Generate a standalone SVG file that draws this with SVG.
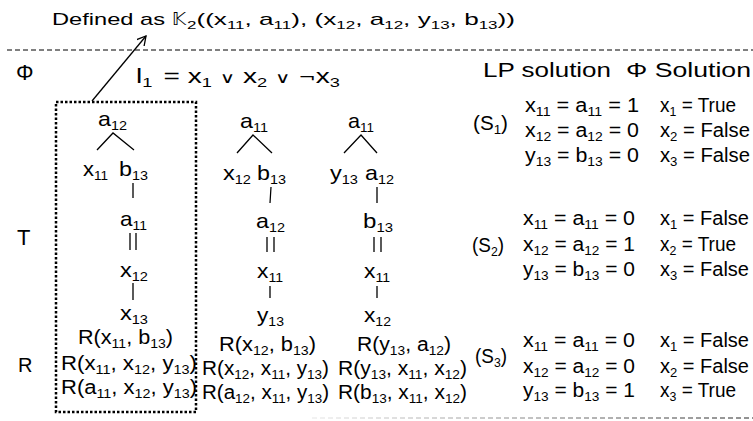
<svg xmlns="http://www.w3.org/2000/svg" width="753" height="421" viewBox="0 0 753 421">
<defs>
<style>
text{font-family:"Liberation Sans",Arial,sans-serif;fill:#000;font-size:20px}
.t{font-size:17px}
.ts{font-size:11px}
.s{font-size:13px}
.big{font-size:22px}
.h{font-size:21px}
.tr{font-size:21px}
.op{font-size:15px;font-family:"DejaVu Sans",sans-serif}
.ln{stroke:#000;stroke-width:1.3;fill:none}
</style>
<marker id="ah" markerWidth="12" markerHeight="12" refX="9" refY="5" orient="auto" markerUnits="userSpaceOnUse">
<path d="M0,0 L9,5 L0,10" fill="none" stroke="#000" stroke-width="1.3"/>
</marker>
<linearGradient id="fade" gradientUnits="userSpaceOnUse" x1="312" y1="0" x2="753" y2="0">
<stop offset="0" stop-color="#e6e6e6"/>
<stop offset="1" stop-color="#222"/>
</linearGradient>
</defs>
<rect width="753" height="421" fill="#fff"/>

<g id="title">
<text class="t" x="52" y="25" textLength="113" lengthAdjust="spacingAndGlyphs">Defined as</text>
<text class="t" x="172" y="25" textLength="14" lengthAdjust="spacingAndGlyphs" style="font-family:'DejaVu Sans',sans-serif">𝕂</text>
<text class="t" x="187" y="25" textLength="328" lengthAdjust="spacingAndGlyphs"><tspan class="ts" dy="3.5">2</tspan><tspan dy="-3.5">((x</tspan><tspan class="ts" dy="3.5">11</tspan><tspan dy="-3.5">, a</tspan><tspan class="ts" dy="3.5">11</tspan><tspan dy="-3.5">), (x</tspan><tspan class="ts" dy="3.5">12</tspan><tspan dy="-3.5">, a</tspan><tspan class="ts" dy="3.5">12</tspan><tspan dy="-3.5">, y</tspan><tspan class="ts" dy="3.5">13</tspan><tspan dy="-3.5">, b</tspan><tspan class="ts" dy="3.5">13</tspan><tspan dy="-3.5">))</tspan></text>
</g>

<g id="separators">
<line x1="7" y1="50" x2="753" y2="50" stroke="#000" stroke-width="1" stroke-dasharray="5 3"/>
<line x1="312" y1="418" x2="753" y2="418" stroke="url(#fade)" stroke-width="1" stroke-dasharray="5 3"/>
</g>

<g id="box"><rect x="56" y="102" width="140" height="310" fill="none" stroke="#000" stroke-width="2.5" stroke-dasharray="2.5 2"/></g>

<g id="row-labels">
<text class="big" x="16" y="80">Φ</text>
<text class="big" x="17" y="245">T</text>
<text x="18" y="372">R</text>
</g>

<g id="clause"><text x="136" y="83" textLength="204" lengthAdjust="spacingAndGlyphs">l<tspan class="s" dy="4">1</tspan><tspan dy="-4" dx="8">= x</tspan><tspan class="s" dy="4">1</tspan><tspan dy="-4"> </tspan><tspan class="op">∨</tspan><tspan> x</tspan><tspan class="s" dy="4">2</tspan><tspan dy="-4"> </tspan><tspan class="op">∨</tspan><tspan> </tspan><tspan class="op">¬</tspan><tspan>x</tspan><tspan class="s" dy="4">3</tspan></text></g>

<g id="headers">
<text class="h" x="483" y="77" textLength="128" lengthAdjust="spacingAndGlyphs">LP solution</text>
<text class="h" x="626" y="77" textLength="125" lengthAdjust="spacingAndGlyphs">Φ Solution</text>
</g>

<g id="connectors">
<line class="ln" x1="92" y1="101" x2="146" y2="36" marker-end="url(#ah)"/>
<!-- tree 1 -->
<polyline class="ln" points="97,150 113,133 134,150"/>
<line class="ln" x1="133" y1="183" x2="133" y2="198"/>
<line class="ln" x1="130" y1="233" x2="130" y2="250"/>
<line class="ln" x1="136" y1="233" x2="136" y2="250"/>
<line class="ln" x1="133" y1="283" x2="133" y2="300"/>
<!-- tree 2 -->
<polyline class="ln" points="237,153 253,135 272,153"/>
<line class="ln" x1="271" y1="187" x2="270" y2="203"/>
<line class="ln" x1="267" y1="237" x2="267" y2="252"/>
<line class="ln" x1="274" y1="237" x2="274" y2="252"/>
<line class="ln" x1="270" y1="286" x2="270" y2="298"/>
<!-- tree 3 -->
<polyline class="ln" points="344,153 361,135 377,153"/>
<line class="ln" x1="377" y1="187" x2="377" y2="203"/>
<line class="ln" x1="374" y1="237" x2="374" y2="252"/>
<line class="ln" x1="381" y1="237" x2="381" y2="252"/>
<line class="ln" x1="377" y1="286" x2="377" y2="298"/>
</g>

<g id="tree1">
<g id="t1-a12"><text class="tr" x="98" y="126" textLength="29" lengthAdjust="spacingAndGlyphs">a<tspan class="s" dy="4">12</tspan></text></g>
<g id="t1-x11"><text class="tr" x="83" y="176" textLength="25" lengthAdjust="spacingAndGlyphs">x<tspan class="s" dy="4">11</tspan></text></g>
<g id="t1-b13"><text class="tr" x="119" y="176" textLength="29" lengthAdjust="spacingAndGlyphs">b<tspan class="s" dy="4">13</tspan></text></g>
<g id="t1-a11"><text class="tr" x="120" y="226" textLength="27" lengthAdjust="spacingAndGlyphs">a<tspan class="s" dy="4">11</tspan></text></g>
<g id="t1-x12"><text class="tr" x="120" y="277" textLength="28" lengthAdjust="spacingAndGlyphs">x<tspan class="s" dy="4">12</tspan></text></g>
<g id="t1-x13"><text class="tr" x="120" y="320" textLength="28" lengthAdjust="spacingAndGlyphs">x<tspan class="s" dy="4">13</tspan></text></g>
<g id="t1-r1"><text x="78" y="344" textLength="95" lengthAdjust="spacingAndGlyphs">R(x<tspan class="s" dy="4">11</tspan><tspan dy="-4">, b</tspan><tspan class="s" dy="4">13</tspan><tspan dy="-4">)</tspan></text></g>
<g id="t1-r2"><text x="61" y="370" textLength="136" lengthAdjust="spacingAndGlyphs">R(x<tspan class="s" dy="4">11</tspan><tspan dy="-4">, x</tspan><tspan class="s" dy="4">12</tspan><tspan dy="-4">, y</tspan><tspan class="s" dy="4">13</tspan><tspan dy="-4">)</tspan></text></g>
<g id="t1-r3"><text x="61" y="394" textLength="136" lengthAdjust="spacingAndGlyphs">R(a<tspan class="s" dy="4">11</tspan><tspan dy="-4">, x</tspan><tspan class="s" dy="4">12</tspan><tspan dy="-4">, y</tspan><tspan class="s" dy="4">13</tspan><tspan dy="-4">)</tspan></text></g>
</g>

<g id="tree2">
<g id="t2-a11"><text class="tr" x="240" y="128" textLength="28" lengthAdjust="spacingAndGlyphs">a<tspan class="s" dy="4">11</tspan></text></g>
<g id="t2-x12"><text class="tr" x="223" y="180" textLength="28" lengthAdjust="spacingAndGlyphs">x<tspan class="s" dy="4">12</tspan></text></g>
<g id="t2-b13"><text class="tr" x="257" y="180" textLength="29" lengthAdjust="spacingAndGlyphs">b<tspan class="s" dy="4">13</tspan></text></g>
<g id="t2-a12"><text class="tr" x="256" y="228" textLength="29" lengthAdjust="spacingAndGlyphs">a<tspan class="s" dy="4">12</tspan></text></g>
<g id="t2-x11"><text class="tr" x="257" y="278" textLength="26" lengthAdjust="spacingAndGlyphs">x<tspan class="s" dy="4">11</tspan></text></g>
<g id="t2-y13"><text class="tr" x="257" y="322" textLength="27" lengthAdjust="spacingAndGlyphs">y<tspan class="s" dy="4">13</tspan></text></g>
<g id="t2-r1"><text x="219" y="351" textLength="97" lengthAdjust="spacingAndGlyphs">R(x<tspan class="s" dy="4">12</tspan><tspan dy="-4">, b</tspan><tspan class="s" dy="4">13</tspan><tspan dy="-4">)</tspan></text></g>
<g id="t2-r2"><text x="202" y="375" textLength="127" lengthAdjust="spacingAndGlyphs">R(x<tspan class="s" dy="4">12</tspan><tspan dy="-4">, x</tspan><tspan class="s" dy="4">11</tspan><tspan dy="-4">, y</tspan><tspan class="s" dy="4">13</tspan><tspan dy="-4">)</tspan></text></g>
<g id="t2-r3"><text x="202" y="399" textLength="127" lengthAdjust="spacingAndGlyphs">R(a<tspan class="s" dy="4">12</tspan><tspan dy="-4">, x</tspan><tspan class="s" dy="4">11</tspan><tspan dy="-4">, y</tspan><tspan class="s" dy="4">13</tspan><tspan dy="-4">)</tspan></text></g>
</g>

<g id="tree3">
<g id="t3-a11"><text class="tr" x="348" y="128" textLength="26" lengthAdjust="spacingAndGlyphs">a<tspan class="s" dy="4">11</tspan></text></g>
<g id="t3-y13"><text class="tr" x="330" y="180" textLength="28" lengthAdjust="spacingAndGlyphs">y<tspan class="s" dy="4">13</tspan></text></g>
<g id="t3-a12"><text class="tr" x="365" y="180" textLength="29" lengthAdjust="spacingAndGlyphs">a<tspan class="s" dy="4">12</tspan></text></g>
<g id="t3-b13"><text class="tr" x="363" y="228" textLength="30" lengthAdjust="spacingAndGlyphs">b<tspan class="s" dy="4">13</tspan></text></g>
<g id="t3-x11"><text class="tr" x="364" y="278" textLength="26" lengthAdjust="spacingAndGlyphs">x<tspan class="s" dy="4">11</tspan></text></g>
<g id="t3-x12"><text class="tr" x="364" y="322" textLength="27" lengthAdjust="spacingAndGlyphs">x<tspan class="s" dy="4">12</tspan></text></g>
<g id="t3-r1"><text x="357" y="351" textLength="94" lengthAdjust="spacingAndGlyphs">R(y<tspan class="s" dy="4">13</tspan><tspan dy="-4">, a</tspan><tspan class="s" dy="4">12</tspan><tspan dy="-4">)</tspan></text></g>
<g id="t3-r2"><text x="338" y="375" textLength="129" lengthAdjust="spacingAndGlyphs">R(y<tspan class="s" dy="4">13</tspan><tspan dy="-4">, x</tspan><tspan class="s" dy="4">11</tspan><tspan dy="-4">, x</tspan><tspan class="s" dy="4">12</tspan><tspan dy="-4">)</tspan></text></g>
<g id="t3-r3"><text x="338" y="399" textLength="129" lengthAdjust="spacingAndGlyphs">R(b<tspan class="s" dy="4">13</tspan><tspan dy="-4">, x</tspan><tspan class="s" dy="4">11</tspan><tspan dy="-4">, x</tspan><tspan class="s" dy="4">12</tspan><tspan dy="-4">)</tspan></text></g>
</g>

<g id="s1">
<text x="473" y="130" textLength="35" lengthAdjust="spacingAndGlyphs">(S<tspan class="s" dy="4">1</tspan><tspan dy="-4">)</tspan></text>
<text x="525" y="112" textLength="114" lengthAdjust="spacingAndGlyphs">x<tspan class="s" dy="4">11</tspan><tspan dy="-4"> = a</tspan><tspan class="s" dy="4">11</tspan><tspan dy="-4"> = 1</tspan></text>
<text x="525" y="137" textLength="114" lengthAdjust="spacingAndGlyphs">x<tspan class="s" dy="4">12</tspan><tspan dy="-4"> = a</tspan><tspan class="s" dy="4">12</tspan><tspan dy="-4"> = 0</tspan></text>
<text x="525" y="162" textLength="114" lengthAdjust="spacingAndGlyphs">y<tspan class="s" dy="4">13</tspan><tspan dy="-4"> = b</tspan><tspan class="s" dy="4">13</tspan><tspan dy="-4"> = 0</tspan></text>
<text x="660" y="112" textLength="76" lengthAdjust="spacingAndGlyphs">x<tspan class="s" dy="4">1</tspan><tspan dy="-4"> = True</tspan></text>
<text x="660" y="137" textLength="90" lengthAdjust="spacingAndGlyphs">x<tspan class="s" dy="4">2</tspan><tspan dy="-4"> = False</tspan></text>
<text x="660" y="162" textLength="90" lengthAdjust="spacingAndGlyphs">x<tspan class="s" dy="4">3</tspan><tspan dy="-4"> = False</tspan></text>
</g>

<g id="s2">
<text x="472" y="252" textLength="32" lengthAdjust="spacingAndGlyphs">(S<tspan class="s" dy="4">2</tspan><tspan dy="-4">)</tspan></text>
<text x="523" y="225" textLength="112" lengthAdjust="spacingAndGlyphs">x<tspan class="s" dy="4">11</tspan><tspan dy="-4"> = a</tspan><tspan class="s" dy="4">11</tspan><tspan dy="-4"> = 0</tspan></text>
<text x="523" y="251" textLength="112" lengthAdjust="spacingAndGlyphs">x<tspan class="s" dy="4">12</tspan><tspan dy="-4"> = a</tspan><tspan class="s" dy="4">12</tspan><tspan dy="-4"> = 1</tspan></text>
<text x="523" y="276" textLength="112" lengthAdjust="spacingAndGlyphs">y<tspan class="s" dy="4">13</tspan><tspan dy="-4"> = b</tspan><tspan class="s" dy="4">13</tspan><tspan dy="-4"> = 0</tspan></text>
<text x="660" y="225" textLength="89" lengthAdjust="spacingAndGlyphs">x<tspan class="s" dy="4">1</tspan><tspan dy="-4"> = False</tspan></text>
<text x="660" y="251" textLength="76" lengthAdjust="spacingAndGlyphs">x<tspan class="s" dy="4">2</tspan><tspan dy="-4"> = True</tspan></text>
<text x="660" y="276" textLength="89" lengthAdjust="spacingAndGlyphs">x<tspan class="s" dy="4">3</tspan><tspan dy="-4"> = False</tspan></text>
</g>

<g id="s3">
<text x="475" y="363" textLength="32" lengthAdjust="spacingAndGlyphs">(S<tspan class="s" dy="4">3</tspan><tspan dy="-4">)</tspan></text>
<text x="523" y="347" textLength="112" lengthAdjust="spacingAndGlyphs">x<tspan class="s" dy="4">11</tspan><tspan dy="-4"> = a</tspan><tspan class="s" dy="4">11</tspan><tspan dy="-4"> = 0</tspan></text>
<text x="523" y="373" textLength="112" lengthAdjust="spacingAndGlyphs">x<tspan class="s" dy="4">12</tspan><tspan dy="-4"> = a</tspan><tspan class="s" dy="4">12</tspan><tspan dy="-4"> = 0</tspan></text>
<text x="523" y="397" textLength="112" lengthAdjust="spacingAndGlyphs">y<tspan class="s" dy="4">13</tspan><tspan dy="-4"> = b</tspan><tspan class="s" dy="4">13</tspan><tspan dy="-4"> = 1</tspan></text>
<text x="660" y="347" textLength="89" lengthAdjust="spacingAndGlyphs">x<tspan class="s" dy="4">1</tspan><tspan dy="-4"> = False</tspan></text>
<text x="660" y="373" textLength="89" lengthAdjust="spacingAndGlyphs">x<tspan class="s" dy="4">2</tspan><tspan dy="-4"> = False</tspan></text>
<text x="660" y="397" textLength="76" lengthAdjust="spacingAndGlyphs">x<tspan class="s" dy="4">3</tspan><tspan dy="-4"> = True</tspan></text>
</g>
</svg>
